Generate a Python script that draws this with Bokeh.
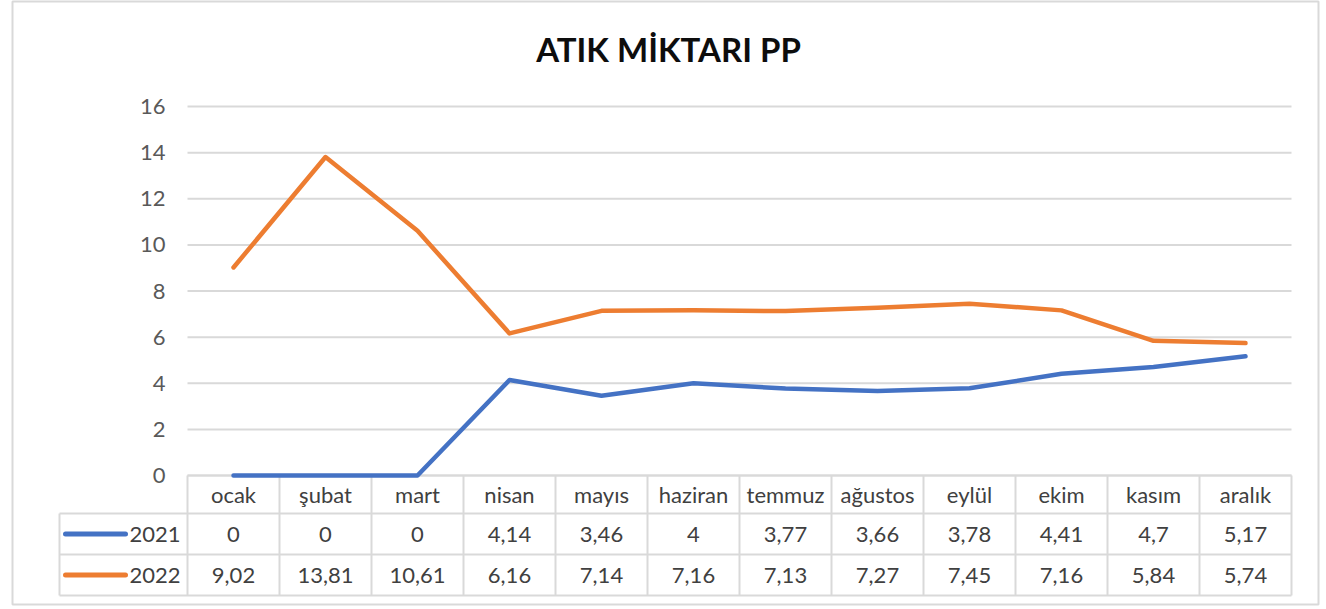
from bokeh.plotting import figure
from bokeh.models import Range1d, FixedTicker, Label
from bokeh.core.properties import value
from bokeh.embed import file_html
from bokeh.resources import INLINE

# ---------------- data ----------------
title_text = "ATIK MİKTARI PP"
months = ["ocak", "şubat", "mart", "nisan", "mayıs", "haziran",
          "temmuz", "ağustos", "eylül", "ekim", "kasım", "aralık"]
series_names = ["2021", "2022"]
values_2021 = [0, 0, 0, 4.14, 3.46, 4, 3.77, 3.66, 3.78, 4.41, 4.7, 5.17]
values_2022 = [9.02, 13.81, 10.61, 6.16, 7.14, 7.16, 7.13, 7.27, 7.45, 7.16, 5.84, 5.74]
y_ticks = [0, 2, 4, 6, 8, 10, 12, 14, 16]

# ---------------- style / layout (pixels) ----------------
COLORS = ["#4472C4", "#ED7D31"]
GRID = "#D9D9D9"
FONT = "Lato"
TXT = "#404040"
W, H = 1320, 606
OUT_L, OUT_R, OUT_T, OUT_B = 12, 1318, 1, 604          # chart-area border (= frame)
PLOT_L, PLOT_R, PLOT_T, PLOT_B = 187, 1291, 106, 475    # plot area
ROW_LINES = [475, 513, 554, 595]                        # table row borders (px, top->bottom)
LEFT_COL_L = 59                                         # left edge of table legend column

n = len(months)
px_x = (PLOT_R - PLOT_L) / n
px_y = (PLOT_B - PLOT_T) / y_ticks[-1]
x0 = -(PLOT_L - OUT_L) / px_x
x1 = n + (OUT_R - PLOT_R) / px_x
y0 = -(OUT_B - PLOT_B) / px_y
y1 = y_ticks[-1] + (PLOT_T - OUT_T) / px_y
x_left = -(PLOT_L - LEFT_COL_L) / px_x
xs = [i + 0.5 for i in range(n)]
# table rows in pixel units measured upward from the chart bottom
rl = [OUT_B - r for r in ROW_LINES]
row_mid = [(rl[i] + rl[i + 1]) / 2 for i in range(len(rl) - 1)]

p = figure(width=W, height=H, output_backend="svg", toolbar_location=None,
           x_range=Range1d(x0, x1), y_range=Range1d(y0, y1),
           x_axis_location=None,
           min_border_left=OUT_L, min_border_right=W - OUT_R,
           min_border_top=OUT_T, min_border_bottom=H - OUT_B,
           outline_line_color=GRID, outline_line_width=2,
           background_fill_color="white", border_fill_color="white")
p.extra_y_ranges = {"tbl": Range1d(0, OUT_B - OUT_T)}

# y axis placed at x = 0 inside the frame
ax = p.yaxis[0]
ax.fixed_location = 0
ax.ticker = FixedTicker(ticks=y_ticks)
ax.axis_line_color = None
ax.major_tick_line_color = None
ax.minor_tick_line_color = None
ax.major_tick_out = 0
ax.major_tick_in = 0
ax.major_label_standoff = 22
ax.major_label_text_font = FONT
ax.major_label_text_font_size = "22px"
ax.major_label_text_color = "#595959"
p.ygrid.visible = False
p.xgrid.visible = False

# horizontal gridlines across the plot area only
p.segment(x0=[0] * len(y_ticks), x1=[n] * len(y_ticks), y0=y_ticks, y1=y_ticks,
          line_color=GRID, line_width=2)

# ---------------- data table borders ----------------
hx0 = [0] + [x_left] * (len(rl) - 1)
p.segment(x0=hx0, x1=[n] * len(hx0), y0=rl, y1=rl, y_range_name="tbl",
          line_color=GRID, line_width=2)
vx = list(range(n + 1)) + [x_left]
vy0 = [rl[-1]] * len(vx)
vy1 = [rl[0]] * (n + 1) + [rl[1]]
p.segment(x0=vx, x1=vx, y0=vy0, y1=vy1, y_range_name="tbl",
          line_color=GRID, line_width=2)

# series lines
for vals, col in zip([values_2021, values_2022], COLORS):
    p.line(xs, vals, line_color=col, line_width=4.5,
           line_join="round", line_cap="round")


def fmt(v):
    return f"{v:g}".replace(".", ",")


# header
p.text(xs, [row_mid[0]] * n, text=months, y_range_name="tbl",
       text_font=value(FONT), text_font_size="22px", text_color=TXT,
       text_align="center", text_baseline="middle")
# rows with legend keys
key_x0 = x_left + 6 / px_x
key_x1 = x_left + 66 / px_x
lab_x = -7 / px_x
for k, (vals, name, col) in enumerate(zip([values_2021, values_2022], series_names, COLORS)):
    yc = row_mid[k + 1]
    p.text(xs, [yc] * n, text=[fmt(v) for v in vals], y_range_name="tbl",
           text_font=value(FONT), text_font_size="22px", text_color=TXT,
           text_align="center", text_baseline="middle")
    p.segment(x0=[key_x0], x1=[key_x1], y0=[yc], y1=[yc], y_range_name="tbl",
              line_color=col, line_width=5, line_cap="round")
    p.text([lab_x], [yc], text=[name], y_range_name="tbl",
           text_font=value(FONT), text_font_size="22px", text_color=TXT,
           text_align="right", text_baseline="middle")

# title
p.add_layout(Label(x=668 - OUT_L, y=OUT_B - 48, x_units="screen", y_units="screen",
                   text=title_text, text_font=FONT, text_font_size="33px",
                   text_font_style="bold", text_color="#0d0d0d",
                   text_align="center", text_baseline="middle"))

open("out.html", "w").write(file_html(p, INLINE))
